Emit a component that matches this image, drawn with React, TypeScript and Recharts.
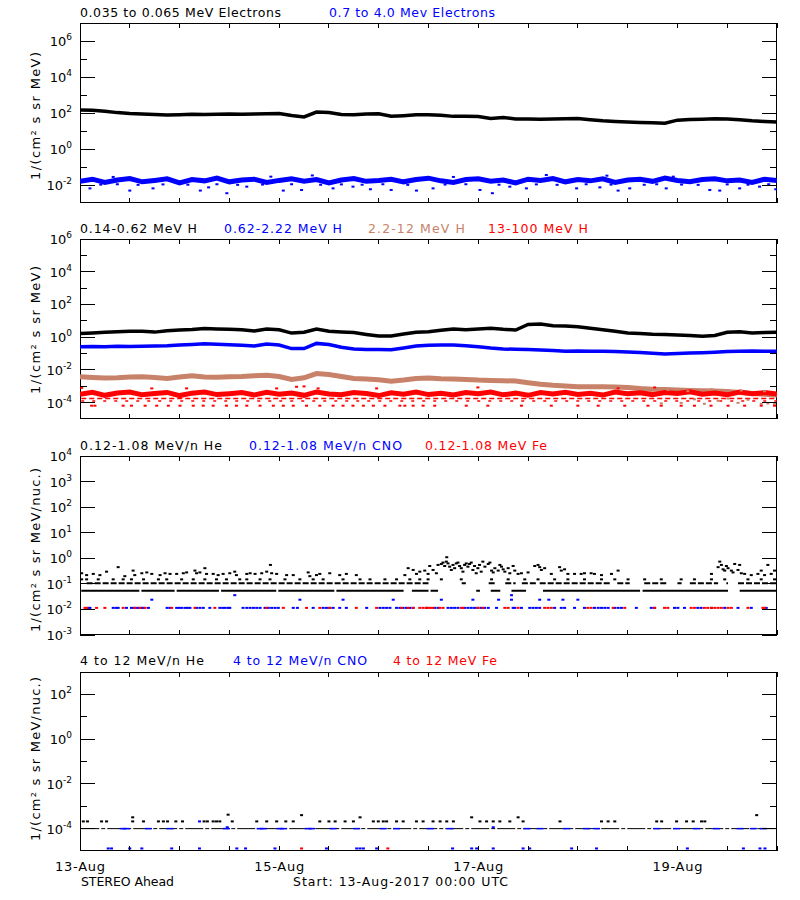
import React from 'react';
import { ComposedChart, Line, Scatter, XAxis, YAxis, ReferenceArea } from 'recharts';

const BLACK = '#000000';
const BLUE = '#0000ff';
const TAN = '#c8826a';
const RED = '#ff0000';
const FONT = 'DejaVu Sans';

const PLOT_LEFT = 80;
const PLOT_RIGHT = 777;

// hours since 13-Aug-2017 00:00, one sample every 3 hours
const HOURS = Array.from({ length: 57 }, (_, i) => i * 3);
const X_TICKS = [0, 12, 24, 36, 48, 60, 72, 84, 96, 108, 120, 132, 144, 156, 168];
const DAY_LABELS: Record<number, string> = { 0: '13-Aug', 48: '15-Aug', 96: '17-Aug', 144: '19-Aug' };

// --- panel 1: electrons ---
const elecLow = [148, 141, 126, 105, 93, 89, 83, 78, 81, 85, 83, 85, 87, 85, 89, 91, 93, 72, 60, 112, 105, 83, 79, 87, 91, 66, 71, 79, 81, 76, 65, 66, 63, 50, 56, 47, 46, 45, 46, 48, 49, 42, 37, 34, 32, 30, 29, 27, 40, 43, 45, 48, 46, 42, 37, 34, 32];
const elecHigh = [0.016, 0.021, 0.014, 0.019, 0.023, 0.015, 0.018, 0.022, 0.013, 0.02, 0.017, 0.024, 0.015, 0.019, 0.021, 0.014, 0.018, 0.022, 0.016, 0.02, 0.013, 0.019, 0.023, 0.016, 0.018, 0.021, 0.015, 0.02, 0.024, 0.017, 0.014, 0.02, 0.022, 0.016, 0.019, 0.013, 0.021, 0.018, 0.023, 0.015, 0.02, 0.017, 0.022, 0.014, 0.019, 0.021, 0.016, 0.024, 0.018, 0.015, 0.02, 0.022, 0.017, 0.019, 0.014, 0.021, 0.018];
const elecHighStray = [
  [2.4, 0.0065], [12, 0.0049], [17.6, 0.0065], [29, 0.0049], [31, 0.0074], [35.4, 0.0035], [40.2, 0.0081], [49, 0.0049], [53.4, 0.0053], [61, 0.0065], [65.8, 0.0081], [70, 0.0058], [75, 0.0053],
  [81.1, 0.0049], [85.1, 0.0065], [96.4, 0.0053], [99.4, 0.0035], [103.6, 0.0081], [107.6, 0.0065], [119.7, 0.0065], [125.3, 0.0074], [129.7, 0.0049], [132.5, 0.0065], [141.3, 0.0065], [151.8, 0.0053], [154.2, 0.0049], [159, 0.0065], [163.8, 0.0081], [167.7, 0.0058],
  [5, 0.0105], [9, 0.011], [14, 0.0102], [20, 0.0108], [26, 0.0104], [33, 0.011], [38, 0.0102], [44, 0.0106], [51, 0.011], [58, 0.0103], [63, 0.0108], [68, 0.0104], [73, 0.011], [79, 0.0102],
  [88, 0.0106], [93, 0.011], [101, 0.0104], [110, 0.0108], [115, 0.0102], [122, 0.011], [128, 0.0105], [136, 0.0103], [139, 0.011], [145, 0.0106], [149, 0.0102], [156, 0.0108], [161, 0.0104], [166, 0.011],
  [8, 0.028], [46, 0.029], [56, 0.034], [90, 0.028], [112.4, 0.036], [127, 0.033], [143, 0.029],
];

// --- panel 2: protons ---
const hLow = [1.7, 1.82, 2.0, 2.14, 2.34, 2.29, 2.04, 2.51, 2.75, 2.95, 3.39, 3.16, 3.02, 2.82, 2.4, 3.16, 2.82, 1.78, 2.0, 3.16, 2.29, 2.09, 1.91, 1.48, 1.17, 1.2, 1.58, 2.0, 2.14, 2.63, 3.16, 2.82, 3.16, 3.47, 3.02, 2.75, 6.0, 6.3, 5.0, 4.8, 4.27, 3.55, 2.88, 2.29, 1.82, 1.66, 1.51, 1.48, 1.38, 1.26, 1.15, 1.26, 2.0, 2.14, 1.82, 1.91, 2.0];
const hMid = [0.263, 0.269, 0.263, 0.275, 0.269, 0.282, 0.288, 0.302, 0.331, 0.363, 0.398, 0.372, 0.339, 0.316, 0.288, 0.38, 0.331, 0.2, 0.2, 0.417, 0.355, 0.24, 0.19, 0.174, 0.174, 0.17, 0.219, 0.288, 0.316, 0.331, 0.331, 0.302, 0.263, 0.219, 0.19, 0.182, 0.174, 0.166, 0.151, 0.138, 0.141, 0.138, 0.138, 0.132, 0.126, 0.115, 0.105, 0.095, 0.1, 0.107, 0.112, 0.12, 0.132, 0.138, 0.141, 0.138, 0.138];
const hHigh = [0.0038, 0.00347, 0.00316, 0.00331, 0.00363, 0.0038, 0.00339, 0.00302, 0.00363, 0.00437, 0.00363, 0.00355, 0.0038, 0.00398, 0.00437, 0.00479, 0.00398, 0.00263, 0.00331, 0.006, 0.00525, 0.00398, 0.00302, 0.00275, 0.00251, 0.002, 0.0024, 0.00302, 0.00316, 0.00288, 0.00275, 0.00263, 0.0024, 0.00229, 0.00219, 0.00209, 0.00166, 0.00132, 0.00115, 0.00105, 0.00095, 0.00093, 0.00095, 0.00091, 0.00083, 0.00072, 0.00066, 0.00063, 0.00059, 0.00056, 0.00054, 0.00051, 0.00048, 0.00042, 0.00036, 0.00033, 0.00029];
const hHighStray = [
  [140.1, 9e-5], [141.7, 6e-4], [144.9, 9.7e-5], [146.5, 5e-4], [148.1, 1.6e-4], [150.5, 8.5e-5], [152.2, 6.5e-4], [153.8, 1.3e-4], [156.2, 1.8e-4],
  [158.6, 9.7e-5], [159.4, 5.5e-4], [161, 1.5e-4], [164.2, 8.5e-5], [165, 5e-4], [165.8, 9e-5], [167.4, 8.5e-5],
];
const hTop = [3.2e-4, 4.3e-4, 2.8e-4, 3.9e-4, 4.5e-4, 3.0e-4, 3.6e-4, 4.2e-4, 2.7e-4, 3.8e-4, 4.4e-4, 3.1e-4, 3.5e-4, 4.1e-4, 2.9e-4, 4.3e-4, 3.3e-4, 3.9e-4, 2.8e-4, 4.5e-4, 3.4e-4, 3.0e-4, 4.2e-4, 3.6e-4, 2.7e-4, 4.0e-4, 3.3e-4, 4.4e-4, 3.1e-4, 3.7e-4, 2.9e-4, 4.2e-4, 3.5e-4, 4.5e-4, 3.0e-4, 3.8e-4, 2.8e-4, 4.1e-4, 3.4e-4, 4.3e-4, 3.2e-4, 3.7e-4, 2.9e-4, 4.4e-4, 3.5e-4, 4.0e-4, 3.1e-4, 4.2e-4, 3.6e-4, 4.6e-4, 3.3e-4, 3.9e-4, 3.0e-4, 4.4e-4, 3.5e-4, 4.1e-4, 3.4e-4];
const hTopUpper = [[0.4, 8e-4], [17.3, 7.4e-4], [25.7, 7.4e-4], [47.4, 7.4e-4], [52.2, 9.3e-4], [54, 9.8e-4], [57.4, 7.4e-4], [71.5, 7.4e-4], [95.9, 8.5e-4], [129.7, 7.4e-4], [138.5, 8.5e-4]];
const hTopRowA = 1.8e-4;
const hTopRowB = 1.26e-4;
const hTopLowTimes = [2.8, 3.6, 10.4, 12.4, 15.7, 18.5, 21.3, 24.1, 27.3, 29.7, 32.1, 35.3, 37.7, 40.2, 43.4, 46.6, 49, 51.4, 54.6, 57.8, 61, 63.4, 65.8, 68.3, 70.7, 73.5, 77.1, 78.3, 80.3, 82.7, 85.5, 93.1, 98.3, 106.4, 113.6, 120, 124.9, 131.3, 136.9, 140.1, 144.9, 148.1, 152.1, 156.2, 160.2, 164.2, 167.4];
const hTopLow = 6.5e-5;

// --- panel 3: 0.12-1.08 MeV/n ions ---
const heBase = 0.054;
const heBaseSpans = [[0.3, 14.3], [14.8, 22.8], [23.3, 33.5], [34, 47.3], [47.8, 61.3], [61.8, 78], [80, 84], [84.5, 86.3], [95.5, 96.4], [99, 101.3], [104, 107.5], [111.6, 135], [135.6, 156.2], [159, 168]];
const heRow = 0.105;
const heRowSpans = [[1.6, 84], [92, 93], [98.5, 100], [102.5, 105], [106.5, 110], [110.8, 128], [129.5, 132.5], [136, 141.5], [144, 145], [147, 153.8], [155.8, 156.2], [158.6, 168]];
const heRow2 = 0.15;
const heRow2Times = [0.4, 1.6, 4.4, 8, 10.4, 12.4, 15.3, 18.9, 20.9, 24.5, 27.3, 30.1, 32.9, 35.3, 38.5, 40.2, 43.4, 45.8, 49.4, 53, 56.2, 58.6, 63.4, 67.5, 69.9, 73.5, 76.3, 79.5, 81.9, 83.9, 87.1, 91.9, 99.2, 103.2, 107.2, 110.4, 114.4, 117.6, 121.6, 125.7, 128.9, 132.1, 136.1, 140.1, 144.9, 148.1, 152.2, 155.4, 161, 164.2, 167.4];
const heUpper = [
  [0.4, 0.26], [1.6, 0.22], [3.2, 0.245], [4.8, 0.22], [6.4, 0.3], [9.2, 0.45], [10.8, 0.2], [12.8, 0.33], [13.2, 0.22], [14.9, 0.26],
  [16.1, 0.28], [17.3, 0.245], [19.3, 0.22], [20.5, 0.26], [21.7, 0.245], [23.3, 0.245], [24.9, 0.26], [25.7, 0.28], [27.7, 0.33], [28.1, 0.26],
  [28.9, 0.28], [30.1, 0.41], [30.5, 0.245], [32.1, 0.245], [33.3, 0.22], [34.5, 0.245], [36.1, 0.26], [37.3, 0.3], [37.7, 0.22], [40.2, 0.245],
  [41, 0.26], [42.2, 0.245], [43.8, 0.26], [45, 0.3], [45.9, 0.55], [46.2, 0.26], [47.4, 0.245], [49.8, 0.22], [51.4, 0.22], [55, 0.28],
  [55.4, 0.2], [57, 0.22], [57.8, 0.245], [60.2, 0.26], [62.6, 0.22], [64.2, 0.245], [66.6, 0.22], [78.3, 0.22], [79.1, 0.41], [80.3, 0.35],
  [81.1, 0.245], [81.9, 0.3], [83.1, 0.33], [83.9, 0.245],
  [84.3, 0.5], [85.1, 0.35], [85.9, 0.26], [86.3, 0.55], [87.1, 0.6], [87.5, 0.68], [87.9, 0.5], [88.3, 0.74], [88.4, 1.1], [88.7, 0.63],
  [89.1, 0.47], [89.5, 0.35], [89.9, 0.55], [90.3, 0.41], [90.7, 0.63], [91.1, 0.68], [91.5, 0.5], [91.9, 0.41], [92.3, 0.3], [92.7, 0.55],
  [93.1, 0.63], [93.5, 0.47], [93.9, 0.6], [94.3, 0.68], [94.7, 0.35], [95.1, 0.5], [95.5, 0.26], [95.9, 0.41], [96.3, 0.55], [96.7, 0.3],
  [97.1, 0.74], [97.6, 0.47], [98.4, 0.6], [98.8, 0.68], [99.2, 0.33], [99.6, 0.28], [100, 0.41], [100.8, 0.33], [101.2, 0.55], [101.6, 0.47],
  [102, 0.37], [102.4, 0.3], [103.2, 0.41], [103.6, 0.26], [104.4, 0.5], [104.8, 0.33], [105.6, 0.245], [106.4, 0.26], [108, 0.28], [109.6, 0.5],
  [110.4, 0.55], [110.8, 0.45], [111.2, 0.35], [112, 0.41], [113.6, 0.245], [115.6, 0.45], [116, 0.33], [116.8, 0.37], [117.6, 0.245], [119.2, 0.245],
  [120.8, 0.245], [121.6, 0.26], [123.2, 0.26], [124, 0.245], [125.7, 0.22], [128.1, 0.245], [129.7, 0.33], [152.2, 0.245], [153.8, 0.45], [154.2, 0.74],
  [154.6, 0.55], [155, 0.37], [155.4, 0.33], [155.8, 0.5], [156.2, 0.41], [157, 0.33], [157.4, 0.28], [157.8, 0.6], [158.6, 0.35], [159, 0.55],
  [159.4, 0.26], [160.2, 0.245], [161.8, 0.22], [163.4, 0.245], [164.2, 0.33], [165, 0.22], [165.8, 0.55], [166.6, 0.245], [167.4, 0.33],
];
const ionLow = 0.0115;
const cnoLowTimes = [2.0, 2.4, 8.0, 8.7, 9.2, 11.2, 12.4, 13, 13.7, 14.3, 14.9, 15.3, 16.5, 21, 21.7, 23.3, 23.9, 24.5, 25.3, 25.9, 26.5, 28.1, 28.9, 29.7, 31.3, 33.7, 34.4, 35, 35.7, 36.1, 39.3, 40.2, 41, 41.8, 42.6, 43.4, 44.6, 45.4, 46.2, 47, 47.8, 51.4, 52.4, 56.2, 58.6, 59.4, 60.2, 61, 62.6, 64.2, 69.1, 72.3, 73.1, 73.9, 74.7, 76.3, 77.1, 77.9, 78.7, 79.5, 80.3, 83.5,
  85.5, 86.3, 88.7, 89.5, 90.3, 91.1, 92.7, 93.5, 94.3, 95.1, 95.9, 96.7, 97.5, 98.4, 100.4, 104.4, 104.8, 106.4, 108.4, 109.2, 110, 110.8, 114.4, 116, 116.8, 119.2, 121.6, 124, 124.9, 125.7, 126.5, 127.3, 128.9, 129.7, 130.5, 134.1, 137.7, 138.5, 143.3, 144.1, 145.7, 148.9, 149.7, 152.2, 155.4, 158.6, 161.8, 165.4];
const feLowTimes = [1.2, 1.6, 4, 6, 10.4, 13.2, 14.5, 15.7, 22.1, 27.7, 32.5, 45, 49, 54.6, 57.8, 60.2, 66.6, 71.5, 77.5, 79.1, 80.3, 81.9, 82.7, 83.5,
  83.9, 84.5, 85.1, 86.7, 87.5, 91.9, 92.3, 95.9, 97.1, 102.4, 103.2, 105.6, 112, 112.8, 113.6, 122.4, 123.2, 128.5, 131.3, 138.5, 140.9, 141.7, 147.3, 148.1, 150.5, 151.3, 152.2, 153, 153.8, 154.6, 156.2, 157, 161, 164.6, 165];
const cnoUpper = [[17.3, 0.024], [37.3, 0.036], [53, 0.024], [63.4, 0.024], [75.5, 0.024], [87.1, 0.024], [94.7, 0.024], [100.9, 0.024], [104, 0.036], [104, 0.024], [110.8, 0.024], [113, 0.024], [116.4, 0.024], [120, 0.024]];

// --- panel 4: 4-12 MeV/n ions ---
const he4Base = 1e-4;
const he4Span = [[0.3, 168]];
const he4Row = 2.1e-4;
const he4RowTimes = [0.8, 1.8, 5.2, 6.4, 12.7, 15.3, 18.9, 20.1, 21.1, 23.1, 24.7, 29.9, 30.7, 32.1, 32.9, 33.7, 36.7, 42.6, 45, 47.4, 49.6, 51.4, 57.8, 60, 61.5, 63.9, 65.9, 70.7, 71.9, 73.1, 73.9, 76.3, 77.9, 81.1, 82.7, 85.1, 86.8, 88.4, 90, 96.4, 98, 99.6, 101.2, 103.6, 106.8, 115.7, 125.7, 127.3, 128.9, 139, 140.2, 143.8, 146.2, 147.8, 149.8, 150.6];
const he4High = [[12.7, 3.2e-4], [35.7, 4.2e-4], [53.4, 4e-4], [67.5, 3.2e-4], [94.4, 3.2e-4], [105.6, 3.2e-4], [163.1, 4e-4]];
const cno4BaseTimes = [10.4, 11.2, 16.5, 21.7, 35.3, 43.4, 44.2, 48.2, 49, 55, 55.8, 61, 66.7, 73.1, 76.3, 84.4, 89.2, 107.7, 110.9, 117.3, 122.1, 124.5, 139, 143.8, 148.6, 153.4, 159.1, 162.3, 164.7];
const cno4Upper = [[28.8, 2.1e-4], [35.5, 1.15e-4], [99.6, 1.15e-4]];
const ion4Low = 1.3e-5;
const cno4LowTimes = [6.8, 7.6, 12, 14.9, 22.1, 28.8, 37.8, 39.9, 47, 59.4, 66.7, 67.5, 68.3, 71.5, 89.8, 94.4, 95.6, 99.6, 106.8, 108.4, 118.5, 124.5, 146.4, 159.9, 163.9, 165.1];
const fe4LowTimes = [53.4, 74.2];

const series = (vals: number[]) => HOURS.map((t, i) => ({ t, v: vals[i] }));
const pairs = (list: number[][]) => list.map(([t, v]) => ({ t, v }));
const level = (times: number[], v: number) => times.map((t) => ({ t, v }));
const spans = (list: number[][], v: number) =>
  list.flatMap(([a, b]) => [{ t: a, v }, { t: b, v }, { t: b, v: null as number | null }]);

const dot = (fill: string, w = 3, h = 2) => (p: any) =>
  p.cx == null ? <g /> : <rect x={p.cx - w / 2} y={p.cy - h / 2} width={w} height={h} fill={fill} />;

const Frame = (p: any) => (
  <rect
    x={Math.round(p.x) + 0.5}
    y={Math.round(p.y) + 0.5}
    width={Math.round(p.width) - 1}
    height={Math.round(p.height) - 1}
    fill="none"
    stroke={BLACK}
    strokeWidth={1}
  />
);

function YTick({ x, y, payload, evenOnly }: any) {
  const e = Math.round(Math.log10(payload.value));
  const major = !evenOnly || e % 2 === 0;
  const len = major ? 15 : 7;
  return (
    <g>
      <line x1={PLOT_LEFT} x2={PLOT_LEFT + len} y1={y} y2={y} stroke={BLACK} shapeRendering="crispEdges" />
      <line x1={PLOT_RIGHT - len} x2={PLOT_RIGHT} y1={y} y2={y} stroke={BLACK} shapeRendering="crispEdges" />
      {major && (
        <text x={x - 8} y={y + 5} textAnchor="end" fontSize={13} fill={BLACK} fontFamily={FONT}>
          10
          <tspan dy={-6} fontSize={9}>
            {e}
          </tspan>
        </text>
      )}
    </g>
  );
}

function XTick({ x, y, payload, plotH, showDays }: any) {
  const label = showDays ? DAY_LABELS[payload.value] : undefined;
  return (
    <g>
      <line x1={x} x2={x} y1={y} y2={y - 5} stroke={BLACK} shapeRendering="crispEdges" />
      <line x1={x} x2={x} y1={y - plotH} y2={y - plotH + 5} stroke={BLACK} shapeRendering="crispEdges" />
      {label && (
        <text x={x} y={y + 20} textAnchor="middle" fontSize={13} fill={BLACK} fontFamily={FONT} textLength={50}>
          {label}
        </text>
      )}
    </g>
  );
}

function Panel({ top, plotH, domain, ticks, evenOnly, showDays, children }: any) {
  return (
    <div style={{ position: 'absolute', left: 0, top: top - 10 }}>
      <ComposedChart width={800} height={plotH + 40} margin={{ top: 10, right: 23, bottom: 10, left: 20 }}>
        <XAxis
          type="number"
          dataKey="t"
          domain={[0, 168]}
          ticks={X_TICKS}
          interval={0}
          allowDataOverflow
          axisLine={false}
          tickLine={false}
          tickSize={0}
          tickMargin={0}
          height={20}
          tick={(p: any) => <XTick {...p} plotH={plotH} showDays={showDays} />}
        />
        <YAxis
          type="number"
          scale="log"
          domain={domain}
          ticks={ticks}
          interval={0}
          allowDataOverflow
          axisLine={false}
          tickLine={false}
          tickSize={0}
          tickMargin={0}
          width={60}
          tick={(p: any) => <YTick {...p} evenOnly={evenOnly} />}
        />
        {children}
        <ReferenceArea x1={0} x2={168} y1={domain[0]} y2={domain[1]} ifOverflow="visible" shape={Frame} />
      </ComposedChart>
    </div>
  );
}

const TEXTS = [
  { s: '0.035 to 0.065 MeV Electrons', x: 80, y: 17, w: 201, c: BLACK },
  { s: '0.7 to 4.0 Mev Electrons', x: 329, y: 17, w: 166, c: BLUE },
  { s: '0.14-0.62 MeV H', x: 80, y: 233, w: 117, c: BLACK },
  { s: '0.62-2.22 MeV H', x: 224, y: 233, w: 118, c: BLUE },
  { s: '2.2-12 MeV H', x: 368, y: 233, w: 97, c: TAN },
  { s: '13-100 MeV H', x: 488, y: 233, w: 100, c: RED },
  { s: '0.12-1.08 MeV/n He', x: 80, y: 450, w: 142, c: BLACK },
  { s: '0.12-1.08 MeV/n CNO', x: 249, y: 450, w: 153, c: BLUE },
  { s: '0.12-1.08 MeV Fe', x: 425, y: 450, w: 122, c: RED },
  { s: '4 to 12 MeV/n He', x: 80, y: 665, w: 124, c: BLACK },
  { s: '4 to 12 MeV/n CNO', x: 233, y: 665, w: 134, c: BLUE },
  { s: '4 to 12 MeV Fe', x: 393, y: 665, w: 104, c: RED },
  { s: 'STEREO Ahead', x: 81, y: 886, w: 93, c: BLACK },
  { s: 'Start: 13-Aug-2017 00:00 UTC', x: 293, y: 886, w: 215, c: BLACK },
];
const Y_LABELS = [
  { s: '1/(cm² s sr MeV)', cy: 116, w: 128 },
  { s: '1/(cm² s sr MeV)', cy: 330, w: 128 },
  { s: '1/(cm² s sr MeV/nuc.)', cy: 550, w: 164 },
  { s: '1/(cm² s sr MeV/nuc.)', cy: 759, w: 164 },
];

export default function App() {
  return (
    <div style={{ position: 'absolute', left: 0, top: 0, width: 800, height: 900, background: '#fff', overflow: 'hidden' }}>
      <Panel top={23} plotH={180} domain={[1e-3, 1e7]} ticks={[1e-2, 1e-1, 1, 10, 1e2, 1e3, 1e4, 1e5, 1e6]} evenOnly>
        <Line data={series(elecLow)} dataKey="v" stroke={BLACK} strokeWidth={3.5} dot={false} isAnimationActive={false} />
        <Line data={series(elecHigh)} dataKey="v" stroke={BLUE} strokeWidth={5} dot={false} isAnimationActive={false} />
        <Scatter data={pairs(elecHighStray)} dataKey="v" shape={dot(BLUE)} isAnimationActive={false} />
      </Panel>

      <Panel top={239} plotH={180} domain={[1e-5, 1e6]} ticks={[1e-4, 1e-3, 1e-2, 1e-1, 1, 10, 1e2, 1e3, 1e4, 1e5, 1e6]} evenOnly>
        <Line data={series(hLow)} dataKey="v" stroke={BLACK} strokeWidth={3.5} dot={false} isAnimationActive={false} />
        <Line data={series(hMid)} dataKey="v" stroke={BLUE} strokeWidth={3.5} dot={false} isAnimationActive={false} />
        <Line data={series(hHigh)} dataKey="v" stroke={TAN} strokeWidth={5} dot={false} isAnimationActive={false} />
        <Scatter data={pairs(hHighStray)} dataKey="v" shape={dot(TAN)} isAnimationActive={false} />
        <Line data={series(hTop)} dataKey="v" stroke={RED} strokeWidth={5} dot={false} isAnimationActive={false} />
        <Line data={spans([[0.3, 168]], hTopRowA)} dataKey="v" stroke={RED} strokeWidth={1.5} strokeDasharray="5 3" dot={false} isAnimationActive={false} />
        <Line data={spans([[0.3, 168]], hTopRowB)} dataKey="v" stroke={RED} strokeWidth={1.5} strokeDasharray="3 8" dot={false} isAnimationActive={false} />
        <Scatter data={level(hTopLowTimes, hTopLow)} dataKey="v" shape={dot(RED)} isAnimationActive={false} />
        <Scatter data={pairs(hTopUpper)} dataKey="v" shape={dot(RED)} isAnimationActive={false} />
      </Panel>

      <Panel top={456} plotH={179} domain={[1e-3, 1e4]} ticks={[1e-3, 1e-2, 1e-1, 1, 10, 1e2, 1e3, 1e4]} evenOnly={false}>
        <Line data={spans(heBaseSpans, heBase)} dataKey="v" stroke={BLACK} strokeWidth={2} dot={false} isAnimationActive={false} />
        <Line data={spans(heRowSpans, heRow)} dataKey="v" stroke={BLACK} strokeWidth={2} strokeDasharray="6 2" dot={false} isAnimationActive={false} />
        <Scatter data={level(heRow2Times, heRow2)} dataKey="v" shape={dot(BLACK)} isAnimationActive={false} />
        <Scatter data={pairs(heUpper)} dataKey="v" shape={dot(BLACK)} isAnimationActive={false} />
        <Scatter data={level(cnoLowTimes, ionLow)} dataKey="v" shape={dot(BLUE)} isAnimationActive={false} />
        <Scatter data={pairs(cnoUpper)} dataKey="v" shape={dot(BLUE)} isAnimationActive={false} />
        <Scatter data={level(feLowTimes, ionLow)} dataKey="v" shape={dot(RED)} isAnimationActive={false} />
      </Panel>

      <Panel top={672} plotH={179} domain={[1e-5, 1e3]} ticks={[1e-4, 1e-3, 1e-2, 1e-1, 1, 10, 1e2]} evenOnly showDays>
        <Line data={spans(he4Span, he4Base)} dataKey="v" stroke={BLACK} strokeWidth={1} strokeDasharray="18 2 4 2" dot={false} isAnimationActive={false} />
        <Scatter data={level(cno4BaseTimes, he4Base)} dataKey="v" shape={dot(BLUE, 7, 1.5)} isAnimationActive={false} />
        <Scatter data={level(he4RowTimes, he4Row)} dataKey="v" shape={dot(BLACK)} isAnimationActive={false} />
        <Scatter data={pairs(he4High)} dataKey="v" shape={dot(BLACK)} isAnimationActive={false} />
        <Scatter data={pairs(cno4Upper)} dataKey="v" shape={dot(BLUE)} isAnimationActive={false} />
        <Scatter data={level(cno4LowTimes, ion4Low)} dataKey="v" shape={dot(BLUE)} isAnimationActive={false} />
        <Scatter data={level(fe4LowTimes, ion4Low)} dataKey="v" shape={dot(RED)} isAnimationActive={false} />
      </Panel>

      <svg width={800} height={900} style={{ position: 'absolute', left: 0, top: 0, pointerEvents: 'none' }}>
        {TEXTS.map((t) => (
          <text key={t.s + t.y} x={t.x} y={t.y} fill={t.c} fontSize={12.5} fontFamily={FONT} textLength={t.w} lengthAdjust="spacing">
            {t.s}
          </text>
        ))}
        {Y_LABELS.map((l) => (
          <text
            key={l.cy}
            x={40}
            y={l.cy}
            transform={`rotate(-90 40 ${l.cy})`}
            textAnchor="middle"
            fill={BLACK}
            fontSize={13}
            fontFamily={FONT}
            textLength={l.w}
            lengthAdjust="spacing"
          >
            {l.s}
          </text>
        ))}
      </svg>
    </div>
  );
}
